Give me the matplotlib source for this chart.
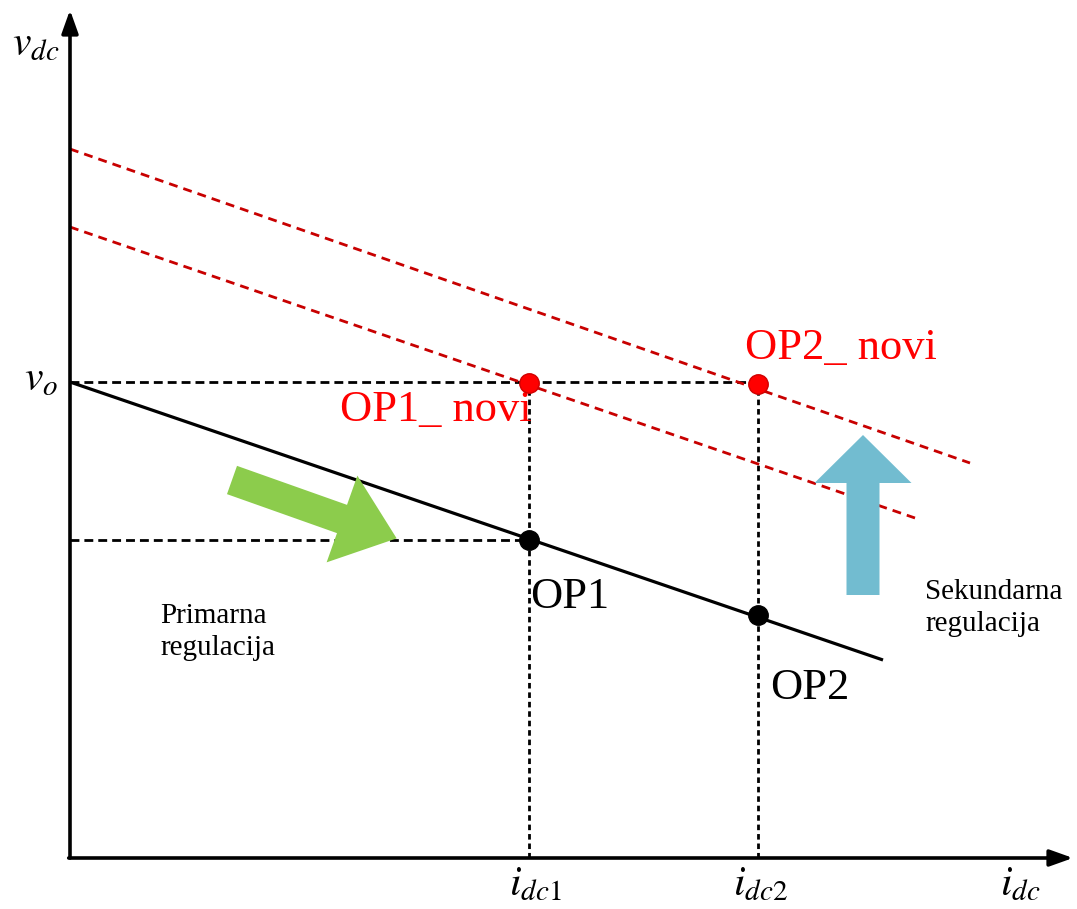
import numpy as np
import matplotlib.pyplot as plt

# podaci (jedinice ~ pikseli od ishodista)
v_o = 476
i_dc1, i_dc2 = 459, 688
droop_x = [0, 813]
droop_y = [476, 198]
novi1_x = [0, 845]
novi1_y = [631, 340]
novi2_x = [0, 900]
novi2_y = [709, 395]
op_x = [i_dc1, i_dc2]
op_y = [318, 243]
op_novi_y = [475, 474]

plt.rcParams['mathtext.fontset'] = 'stix'
plt.rcParams['font.family'] = ['Liberation Serif', 'DejaVu Serif']

fig = plt.figure(figsize=(10.77, 9.09), dpi=100)
ax = fig.add_axes([0, 0, 1, 1])
ax.set_xlim(-70, 1007)
ax.set_ylim(-51, 858)
ax.axis('off')

# osi
ax.annotate('', xy=(0, 848), xytext=(0, 0),
            arrowprops=dict(arrowstyle='-|>,head_length=1.4,head_width=0.5', lw=2.6, color='black', shrinkA=0, shrinkB=0))
ax.annotate('', xy=(1003, 0), xytext=(-1.3, 0),
            arrowprops=dict(arrowstyle='-|>,head_length=1.4,head_width=0.5', lw=2.6, color='black', shrinkA=0, shrinkB=0))

# pomocne linije
ax.plot([0, i_dc2], [v_o, v_o], color='black', lw=2.0, ls=(0, (3.2, 1.8)))
ax.plot([0, i_dc1], [op_y[0], op_y[0]], color='black', lw=2.0, ls=(0, (3.2, 1.8)))
ax.plot([i_dc1, i_dc1], [0, op_novi_y[0]], color='black', lw=2.0, ls=(0, (2.0, 1.4)))
ax.plot([i_dc2, i_dc2], [0, op_novi_y[1]], color='black', lw=2.0, ls=(0, (2.0, 1.4)))

# karakteristike
ax.plot(droop_x, droop_y, color='black', lw=2.3, solid_capstyle='butt')
ax.plot(novi1_x, novi1_y, color='#c80000', lw=2.0, ls=(0, (3.2, 2.2)))
ax.plot(novi2_x, novi2_y, color='#c80000', lw=2.0, ls=(0, (3.2, 2.2)))

# radne tocke
ax.plot(op_x, op_y, 'o', color='black', ms=14, zorder=5)
ax.plot(op_x, op_novi_y, 'o', color='#ff0000', mec='#d00000', ms=14, zorder=5)

# strelice
ax.arrow(162, 378, 110, -39, width=30, head_width=92, head_length=58,
         length_includes_head=False, color='#8ccc4c', lw=0, zorder=3)
ax.arrow(793, 263, 0, 112, width=33, head_width=97, head_length=48,
         color='#72bcd0', lw=0, zorder=3)

# tekst
ax.text(-58, 813, r'$v_{dc}$', fontsize=30, ha='left', va='center')
ax.text(-12, 478, r'$v_o$', fontsize=30, ha='right', va='center')
ax.text(270, 448, 'OP1_ novi', fontsize=32, color='#ff0000', ha='left', va='center')
ax.text(675, 510, 'OP2_ novi', fontsize=32, color='#ff0000', ha='left', va='center')
ax.text(460, 261, 'OP1', fontsize=32, ha='left', va='center')
ax.text(700, 170, 'OP2', fontsize=32, ha='left', va='center')
ax.text(90, 226, 'Primarna\nregulacija', fontsize=21, ha='left', va='center', linespacing=1.3)
ax.text(855, 250, 'Sekundarna\nregulacija', fontsize=21, ha='left', va='center', linespacing=1.3)
ax.text(465, -27, r'$i_{dc1}$', fontsize=30, ha='center', va='center')
ax.text(690, -27, r'$i_{dc2}$', fontsize=30, ha='center', va='center')
ax.text(950, -27, r'$i_{dc}$', fontsize=30, ha='center', va='center')

fig.savefig('out.png', dpi=100, facecolor='white')
